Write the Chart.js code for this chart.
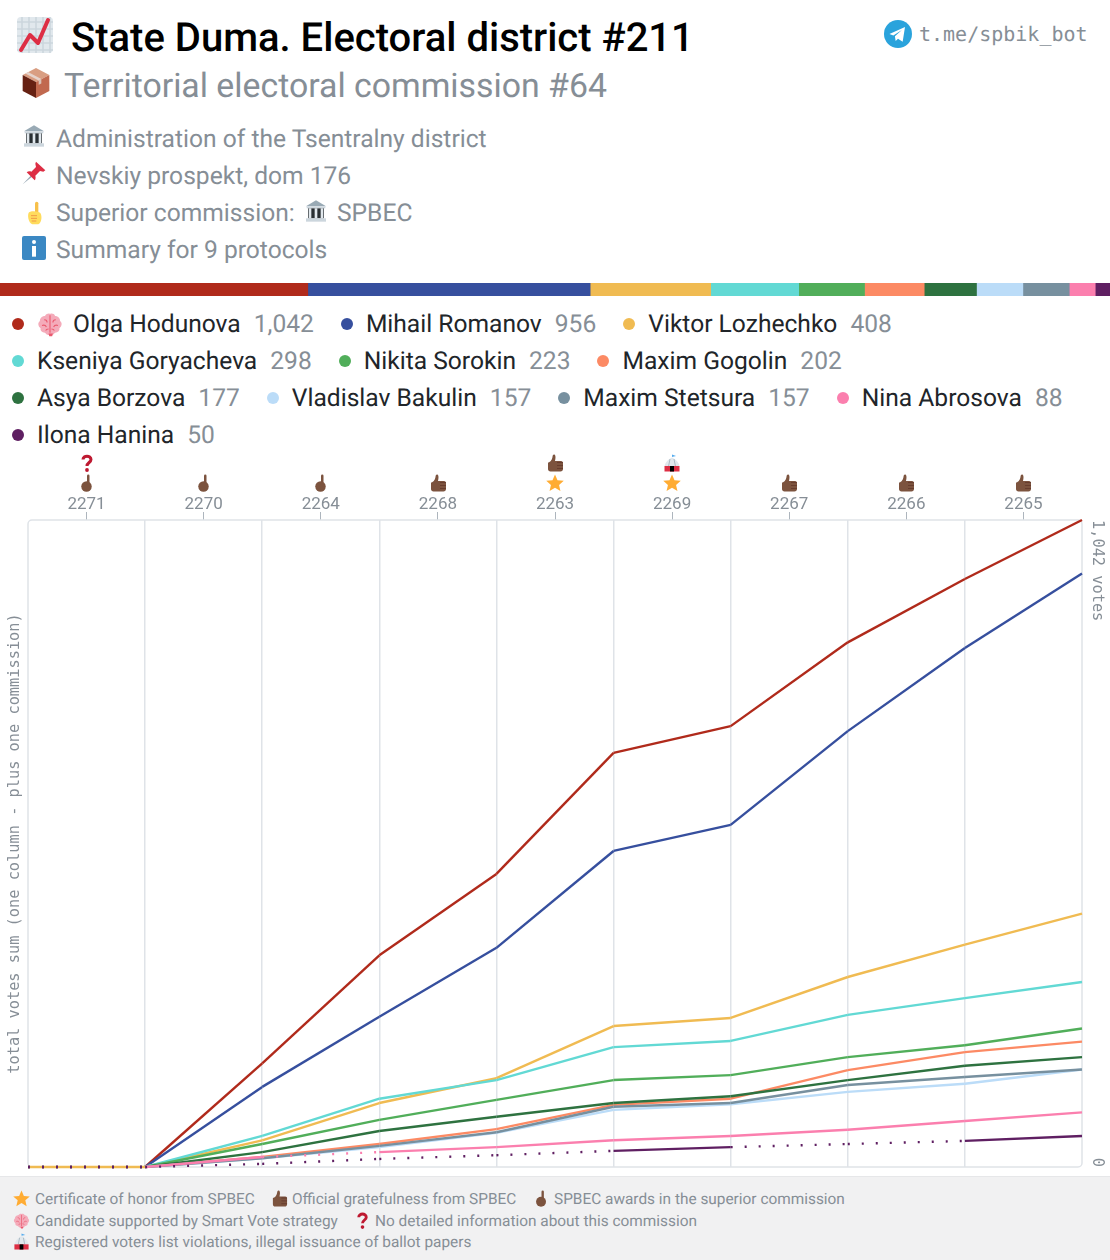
<!DOCTYPE html>
<html>
<head>
<meta charset="utf-8">
<title>State Duma. Electoral district #211</title>
<script src="https://cdn.jsdelivr.net/npm/chart.js@4"></script>
<style>
html, body { margin: 0; padding: 0; background: #fff; }
body { position: relative; width: 1110px; height: 1260px; overflow: hidden; font-family: Roboto, sans-serif; text-rendering: geometricPrecision; }
.abs { position: absolute; white-space: nowrap; }
.gray { color: #868e96; }
.info { font-size: 24.6px; line-height: 30px; left: 56px; }
.icon { position: absolute; }
#bar-wrap { position: absolute; left: 0; top: 283px; width: 1110px; height: 13px; }
#legend { position: absolute; left: 12px; top: 306px; width: 1095px; display: flex; flex-wrap: wrap; font-size: 24.6px; line-height: 37px; color: #212529; }
.item { display: flex; align-items: center; margin-right: 27px; white-space: nowrap; }
.dot { width: 12px; height: 12px; border-radius: 50%; margin-right: 13px; margin-top: -1px; }
.count { color: #868e96; margin-left: 13px; }
#chart-wrap { position: absolute; left: 0; top: 440px; width: 1110px; height: 736px; }
#footer { position: absolute; left: 0; top: 1176px; width: 1110px; height: 84px; background: #f1f1f2; border-top: 1px solid #e6e7e9; box-sizing: border-box; color: #868e96; font-size: 15.4px; }
#footer .abs { line-height: 20px; }
</style>
</head>
<body>
<svg width="0" height="0" style="position:absolute">
  <symbol id="i-chart" viewBox="0 0 36 36"><rect width="36" height="36" rx="4" fill="#e1e8ed"/><path d="M5 0v36M12 0v36M19 0v36M26 0v36M33 0v36M0 5h36M0 12h36M0 19h36M0 26h36M0 33h36" stroke="#ccd6dd" stroke-width="1.6"/><path d="M4 33l9-15 8 8 10-23" fill="none" stroke="#dd2e44" stroke-width="4" stroke-linejoin="round" stroke-linecap="round"/></symbol>
  <symbol id="i-box" viewBox="0 0 36 36"><path d="M18 1L33 9 18 17 3 9z" fill="#d99e82"/><path d="M3 9l15 8v18L3 27z" fill="#662113"/><path d="M33 9L18 17v18l15-8z" fill="#c1694f"/><path d="M9 5.5l15 8-3 1.8-15-8z" fill="#e6d3cb"/><path d="M24 13.5v5l-3 1.6v-4.8z" fill="#d9c3b8"/></symbol>
  <symbol id="i-bank" viewBox="0 0 36 36"><path d="M18 2L33 11H3z" fill="#99aab5"/><rect x="4" y="11" width="28" height="3" fill="#ccd6dd"/><rect x="6" y="14" width="24" height="15" fill="#292f33"/><path d="M7 14h4v15H7zM16 14h4v15h-4zM25 14h4v15h-4z" fill="#e1e8ed"/><rect x="3" y="29" width="30" height="5" fill="#ccd6dd"/></symbol>
  <symbol id="i-pin" viewBox="0 0 36 36"><path d="M1 35l14-15 2 2z" fill="#99aab5"/><path d="M21 1l14 13-3 2-5-1-7 7c1 3 0 6-1 7L7 17c2-2 5-2 7-1l7-7-1-5z" fill="#dd2e44"/></symbol>
  <symbol id="i-point-y" viewBox="0 0 36 36"><rect x="18" y="1" width="5" height="18" rx="2.5" fill="#f7c04a"/><path d="M9 17c3-3 14-2 17 1 3 4 2 15-3 17H14C8 33 6 21 9 17z" fill="#ffdc5d"/><path d="M12 22h9M12 26h9M13 30h7" stroke="#ef9645" stroke-width="1.4"/></symbol>
  <symbol id="i-info" viewBox="0 0 36 36"><rect width="36" height="36" rx="3" fill="#3b88c3"/><circle cx="18" cy="9" r="3" fill="#fff"/><rect x="15" y="15" width="6" height="16" fill="#fff"/></symbol>
  <symbol id="i-brain" viewBox="0 0 36 36"><path d="M18 33c-4 1-6-2-7-3-4 0-7-3-6-6-4-3-4-8-1-10 0-4 3-7 7-7 2-3 5-4 7-3 3-1 6 0 7 3 4 0 7 3 7 7 3 2 3 7-1 10 1 3-2 6-6 6-1 1-3 4-7 3z" fill="#f4abba"/><path d="M18 6v24M10 12c3 0 4 2 4 4M26 12c-3 0-4 2-4 4M7 20c3-1 5 0 6 2M29 20c-3-1-5 0-6 2M12 27c1-2 3-2 4-2M24 27c-1-2-3-2-4-2" fill="none" stroke="#ea596e" stroke-width="1.5"/><path d="M16 31h6l-1 4h-4z" fill="#ea596e"/></symbol>
  <symbol id="i-finger" viewBox="0 0 36 36"><rect x="18" y="1" width="5" height="18" rx="2.5" fill="#7c533e"/><circle cx="17" cy="25" r="10.5" fill="#7c533e"/></symbol>
  <symbol id="i-thumb" viewBox="0 0 36 36"><path d="M4 17c4 0 8-5 9-11 0-3 1-5 3-5 3 0 4 5 2 13h12c3 0 4 2 4 4v12c0 3-2 5-5 5H9c-3 0-5-2-5-5z" fill="#7c533e"/><path d="M22 17h12M22 23h12M22 29h12" stroke="#60352a" stroke-width="1.5"/></symbol>
  <symbol id="i-star" viewBox="0 0 36 36"><path d="M18 1l5 11.5 12.5 1.2-9.4 8.2 2.8 12.3L18 27.5 7.100 34.200l2.800-12.300L.5 13.700 13 12.500z" fill="#ffac33"/></symbol>
  <symbol id="i-q" viewBox="0 0 36 36"><path d="M10 11c0-9 16-9 16 0 0 6-8 6-8 13" fill="none" stroke="#be1931" stroke-width="6"/><circle cx="18" cy="32" r="3.800" fill="#be1931"/></symbol>
  <symbol id="i-tent" viewBox="0 0 36 36"><path d="M18 1l8 3-8 2z" fill="#55acee"/><path d="M18 7c7 3 14 10 15 18H3C4 17 11 10 18 7z" fill="#e1e8ed"/><path d="M14 10L11 25M22 10l3 15" stroke="#99aab5" stroke-width="1.500"/><rect x="3" y="24" width="30" height="11" fill="#dd2e44"/><rect x="14" y="24" width="8" height="11" fill="#000"/></symbol>
  <symbol id="i-tg" viewBox="0 0 36 36"><circle cx="18" cy="18" r="18" fill="#2aa3dc"/><path d="M7 18L27 9l-3 19-6-4-3 3-1-6 9-8-11 7z" fill="#fff"/></symbol>
</svg>

<svg class="icon" style="left:17px;top:17px" width="36" height="36"><use href="#i-chart"/></svg>
<div class="abs" style="left:71px;top:14px;font-size:40px;line-height:48px;font-weight:500;color:#000">State Duma. Electoral district #211</div>
<svg class="icon" style="left:884px;top:20px" width="28" height="28"><use href="#i-tg"/></svg>
<div class="abs gray" style="left:919px;top:21px;font-family:'DejaVu Sans Mono',monospace;font-size:20px;line-height:26px">t.me/spbik_bot</div>

<svg class="icon" style="left:20px;top:66px" width="32" height="34"><use href="#i-box"/></svg>
<div class="abs gray" style="left:64px;top:67px;font-size:33.85px;line-height:40px">Territorial electoral commission #64</div>

<svg class="icon" style="left:22px;top:124px" width="24" height="24"><use href="#i-bank"/></svg>
<div class="abs gray info" style="top:125px">Administration of the Tsentralny district</div>
<svg class="icon" style="left:22px;top:161px" width="24" height="24"><use href="#i-pin"/></svg>
<div class="abs gray info" style="top:162px">Nevskiy prospekt, dom 176</div>
<svg class="icon" style="left:23px;top:201px" width="24" height="24"><use href="#i-point-y"/></svg>
<div class="abs gray info" style="top:199px">Superior commission:</div>
<svg class="icon" style="left:304px;top:199px" width="24" height="24"><use href="#i-bank"/></svg>
<div class="abs gray info" style="top:199px;left:337px">SPBEC</div>
<svg class="icon" style="left:22px;top:236px" width="24" height="24"><use href="#i-info"/></svg>
<div class="abs gray info" style="top:236px">Summary for 9 protocols</div>

<div id="bar-wrap"><canvas id="bar"></canvas></div>
<div id="legend"></div>
<div id="chart-wrap"><canvas id="chart"></canvas></div>
<div id="tick-icons"></div>

<div id="footer">
  <svg class="icon" style="left:13px;top:13px" width="17" height="17"><use href="#i-star"/></svg>
  <div class="abs" style="left:35px;top:12px">Certificate of honor from SPBEC</div>
  <svg class="icon" style="left:271px;top:13px" width="17" height="17"><use href="#i-thumb"/></svg>
  <div class="abs" style="left:292px;top:12px">Official gratefulness from SPBEC</div>
  <svg class="icon" style="left:533px;top:13px" width="17" height="17"><use href="#i-finger"/></svg>
  <div class="abs" style="left:554px;top:12px">SPBEC awards in the superior commission</div>
  <svg class="icon" style="left:13px;top:35px" width="17" height="17"><use href="#i-brain"/></svg>
  <div class="abs" style="left:35px;top:34px">Candidate supported by Smart Vote strategy</div>
  <svg class="icon" style="left:354px;top:35px" width="17" height="17"><use href="#i-q"/></svg>
  <div class="abs" style="left:375px;top:34px">No detailed information about this commission</div>
  <svg class="icon" style="left:13px;top:56px" width="17" height="17"><use href="#i-tent"/></svg>
  <div class="abs" style="left:35px;top:55px">Registered voters list violations, illegal issuance of ballot papers</div>
</div>

<script>
// DATA
const commissions = ['2271', '2270', '2264', '2268', '2263', '2269', '2267', '2266', '2265'];
const commissionIcons = [
    ['i-q', 'i-finger'], ['i-finger'], ['i-finger'], ['i-thumb'], ['i-thumb', 'i-star'],
    ['i-tent', 'i-star'], ['i-thumb'], ['i-thumb'], ['i-thumb']
];

const names = [
    'Olga Hodunova', 'Mihail Romanov', 'Viktor Lozhechko', 'Kseniya Goryacheva', 'Nikita Sorokin',
    'Maxim Gogolin', 'Asya Borzova', 'Vladislav Bakulin', 'Maxim Stetsura', 'Nina Abrosova', 'Ilona Hanina'
];
const colors = [
    '#b02a1b', '#364f9e', '#f0bb52', '#62d9d4', '#51ae5a',
    '#fc8a64', '#2e7240', '#bbdcf8', '#77909f', '#fb7fae', '#5f1f62'
];

// cumulative votes at each column edge
const olga     = [0, 0, 167, 341, 472, 667, 710, 845, 947, 1042];
const mihail   = [0, 0, 129, 242, 353, 509, 551, 702, 836, 956];
const viktor   = [0, 0, 43, 103, 143, 227, 240, 306, 358, 408];
const kseniya  = [0, 0, 50, 110, 140, 193, 203, 245, 272, 298];
const nikita   = [0, 0, 37, 76, 108, 140, 148, 177, 196, 223];
const gogolin  = [0, 0, 16, 37, 61, 100, 110, 156, 185, 202];
const asya     = [0, 0, 24, 58, 81, 103, 114, 140, 163, 177];
const vladislav = [0, 0, 14, 32, 55, 92, 101, 121, 134, 157];
const stetsura = [0, 0, 14, 34, 56, 97, 103, 132, 145, 157];
const nina     = [0, 0, 16, 24, 32, 43, 50, 60, 74, 88];
const ilona    = [0, 0, 5, 13, 19, 26, 32, 37, 42, 50];
const series = [olga, mihail, viktor, kseniya, nikita, gogolin, asya, vladislav, stetsura, nina, ilona];

// segments where the candidate has no numbers for that commission
const dottedSegments = [[0], [0], [], [0], [0], [0], [0], [0], [0], [0, 2], [0, 1, 2, 3, 4, 6, 7]];
const smartVote = ['Olga Hodunova'];

const MAX_VOTES = 1042;
const GRID_COLOR = '#dfe3e8';
const GRAY = '#868e96';
const MONO = "'DejaVu Sans Mono', monospace";

// LEGEND
const legend = document.getElementById('legend');
names.forEach((name, i) => {
    const total = series[i][series[i].length - 1];
    const brain = smartVote.includes(name)
        ? '<svg width="26" height="26" style="margin-right:10px;margin-top:-1px"><use href="#i-brain"/></svg>' : '';
    const item = document.createElement('div');
    item.className = 'item';
    item.innerHTML = `<span class="dot" style="background:${colors[i]}"></span>${brain}<span>${name}</span><span class="count">${total.toLocaleString('en-US')}</span>`;
    legend.appendChild(item);
});

// COLOUR BAR
const totals = series.map(s => s[s.length - 1]);
new Chart(document.getElementById('bar'), {
    type: 'bar',
    data: {
        labels: ['votes'],
        datasets: names.map((name, i) => ({
            label: name,
            data: [totals[i]],
            backgroundColor: colors[i],
            borderWidth: 0,
            barPercentage: 1,
            categoryPercentage: 1
        }))
    },
    options: {
        indexAxis: 'y',
        responsive: true,
        maintainAspectRatio: false,
        animation: false,
        plugins: { legend: { display: false }, tooltip: { enabled: false } },
        scales: {
            x: { stacked: true, display: false, min: 0, max: totals.reduce((a, b) => a + b, 0) },
            y: { stacked: true, display: false }
        }
    }
});

// MAIN CHART
const plotFrame = {
    id: 'plotFrame',
    beforeDatasetsDraw(chart) {
        const { ctx, chartArea: a } = chart;
        ctx.save();
        ctx.strokeStyle = GRID_COLOR;
        ctx.lineWidth = 1.5;
        ctx.beginPath();
        ctx.roundRect(a.left, a.top, a.right - a.left, a.bottom - a.top, 4);
        ctx.stroke();
        ctx.restore();
    }
};

const rightLabels = {
    id: 'rightLabels',
    afterDraw(chart) {
        const { ctx, chartArea: a, scales } = chart;
        ctx.save();
        ctx.fillStyle = GRAY;
        ctx.font = `15.3px ${MONO}`;
        ctx.textBaseline = 'middle';
        const draw = (text, value, align) => {
            ctx.save();
            ctx.translate(a.right + 15, scales.y.getPixelForValue(value));
            ctx.rotate(Math.PI / 2);
            ctx.textAlign = align;
            ctx.fillText(text, 0, 0);
            ctx.restore();
        };
        draw(MAX_VOTES.toLocaleString('en-US') + ' votes', MAX_VOTES, 'left');
        draw('0', 0, 'right');
        ctx.restore();
    }
};

const chart = new Chart(document.getElementById('chart'), {
    type: 'line',
    data: {
        labels: commissions,
        datasets: names.map((name, i) => ({
            label: name,
            data: series[i].map((v, k) => ({ x: k, y: v })),
            xAxisID: 'x',
            yAxisID: 'y',
            borderColor: colors[i],
            borderWidth: 2.4,
            pointRadius: 0,
            tension: 0,
            clip: false,
            order: -i,
            segment: {
                // a small offset per segment keeps each dotted run starting at its own column edge
                borderDash: ctx => dottedSegments[i].includes(ctx.p0DataIndex) ? [2, 12] : undefined,
                borderDashOffset: ctx => ctx.p0DataIndex * 0.001
            }
        }))
    },
    options: {
        responsive: true,
        maintainAspectRatio: false,
        animation: false,
        layout: { padding: { top: 0, right: 28, bottom: 9, left: 0 } },
        plugins: { legend: { display: false }, tooltip: { enabled: false } },
        scales: {
            x: {
                type: 'linear',
                position: 'bottom',
                min: 0,
                max: commissions.length,
                border: { display: false },
                ticks: { display: false, stepSize: 1 },
                grid: {
                    drawTicks: false,
                    lineWidth: 1.5,
                    color: c => (c.tick.value === 0 || c.tick.value === commissions.length) ? 'transparent' : GRID_COLOR
                },
                afterFit: s => { s.height = 0; }
            },
            xTop: {
                type: 'category',
                position: 'top',
                labels: commissions,
                offset: true,
                border: { display: false },
                grid: { drawOnChartArea: false, tickLength: 8, color: '#adb5bd', lineWidth: 1 },
                ticks: { color: GRAY, font: { family: 'Roboto', size: 17 }, padding: -3, maxRotation: 0, autoSkip: false },
                afterFit: s => { s.height = 80; }
            },
            y: {
                min: 0,
                max: MAX_VOTES,
                border: { display: false },
                grid: { display: false },
                ticks: { display: false },
                title: {
                    display: true,
                    text: 'total votes sum (one column - plus one commission)',
                    color: GRAY,
                    font: { family: MONO, size: 15.300, weight: 'normal' },
                    padding: { top: 6, bottom: 0 }
                },
                afterFit: s => { s.width = 28; }
            }
        }
    },
    plugins: [plotFrame, rightLabels]
});

// ICONS ABOVE THE COLUMNS
const holder = document.getElementById('tick-icons');
commissions.forEach((label, i) => {
    const cx = chart.scales.xTop.getPixelForTick(i);
    const icons = commissionIcons[i];
    icons.forEach((id, k) => {
        const cy = 483 - (icons.length - 1 - k) * 20;
        const svg = document.createElementNS('http://www.w3.org/2000/svg', 'svg');
        svg.setAttribute('width', 18);
        svg.setAttribute('height', 18);
        svg.setAttribute('class', 'icon');
        svg.style.left = (cx - 9) + 'px';
        svg.style.top = (cy - 9) + 'px';
        const use = document.createElementNS('http://www.w3.org/2000/svg', 'use');
        use.setAttribute('href', '#' + id);
        svg.appendChild(use);
        holder.appendChild(svg);
    });
});
</script>
</body>
</html>
